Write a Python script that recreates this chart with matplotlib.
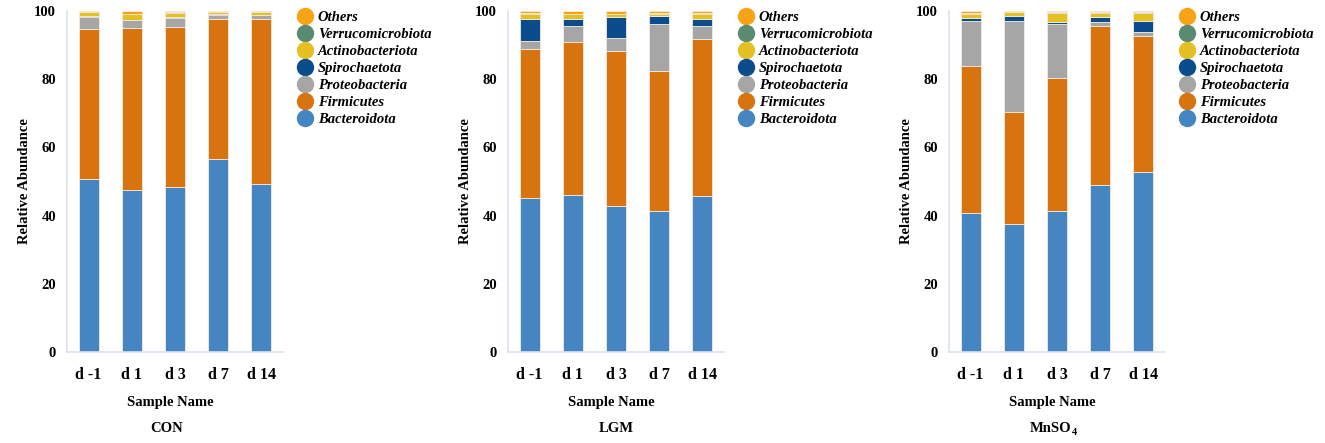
import matplotlib
matplotlib.use("Agg")
import matplotlib.pyplot as plt
from matplotlib.lines import Line2D
import numpy as np

samples = ["d -1", "d 1", "d 3", "d 7", "d 14"]
taxa = ["Bacteroidota", "Firmicutes", "Proteobacteria", "Spirochaetota",
        "Actinobacteriota", "Verrucomicrobiota", "Others"]
colors = ["#4585C1", "#D8740F", "#A6A6A6", "#0B4C8C", "#E4C022", "#5A8B70", "#F8A316"]
groups = ["CON", "LGM", "MnSO"]

con_bacteroidota = [50.6, 47.5, 48.3, 56.5, 49.3]
con_firmicutes = [44.0, 47.4, 46.9, 41.3, 48.5]
con_proteobacteria = [3.7, 2.4, 2.7, 0.9, 0.9]
con_spirochaetota = [0.1, 0.1, 0.3, 0.3, 0.1]
con_actinobacteriota = [1.2, 1.7, 1.3, 0.7, 1.0]
con_verrucomicrobiota = [0.05, 0.05, 0.1, 0.1, 0.05]
con_others = [0.35, 0.85, 0.4, 0.2, 0.15]

lgm_bacteroidota = [45.2, 46.0, 42.8, 41.3, 45.7]
lgm_firmicutes = [43.6, 44.8, 45.5, 41.2, 46.0]
lgm_proteobacteria = [2.5, 4.8, 3.7, 13.6, 3.9]
lgm_spirochaetota = [6.3, 2.0, 6.2, 2.4, 2.1]
lgm_actinobacteriota = [1.6, 1.5, 0.9, 0.7, 1.5]
lgm_verrucomicrobiota = [0.1, 0.1, 0.1, 0.1, 0.1]
lgm_others = [0.7, 0.8, 0.8, 0.7, 0.7]

mn_bacteroidota = [40.8, 37.5, 41.3, 49.0, 52.9]
mn_firmicutes = [43.1, 32.8, 39.0, 46.7, 39.8]
mn_proteobacteria = [13.2, 26.8, 15.9, 1.1, 1.2]
mn_spirochaetota = [0.8, 1.4, 0.6, 1.5, 3.1]
mn_actinobacteriota = [1.3, 1.1, 2.6, 1.0, 2.5]
mn_verrucomicrobiota = [0.1, 0.1, 0.2, 0.3, 0.1]
mn_others = [0.7, 0.3, 0.4, 0.4, 0.4]

panels = [
    [con_bacteroidota, con_firmicutes, con_proteobacteria, con_spirochaetota,
     con_actinobacteriota, con_verrucomicrobiota, con_others],
    [lgm_bacteroidota, lgm_firmicutes, lgm_proteobacteria, lgm_spirochaetota,
     lgm_actinobacteriota, lgm_verrucomicrobiota, lgm_others],
    [mn_bacteroidota, mn_firmicutes, mn_proteobacteria, mn_spirochaetota,
     mn_actinobacteriota, mn_verrucomicrobiota, mn_others],
]

plt.rcParams['font.family'] = ['Liberation Serif', 'DejaVu Serif']

W, H = 1325, 443
fig = plt.figure(figsize=(W / 100, H / 100), dpi=100)

lefts = [67, 508, 949]
axw = 216
ax_bottom_px = 352
ax_top_px = 11
spine_col = "#DCE3EE"

for pi, (left, data, gname) in enumerate(zip(lefts, panels, groups)):
    ax = fig.add_axes([left / W, (H - ax_bottom_px) / H, axw / W,
                       (ax_bottom_px - ax_top_px) / H])
    x = np.arange(len(samples))
    bottom = np.zeros(len(samples))
    for vals, col in zip(data, colors):
        v = np.array(vals)
        ax.bar(x, v, width=0.46, bottom=bottom, color=col,
               edgecolor="#F3EBDD", linewidth=0.6)
        bottom += v
    ax.set_xlim(-0.5, 4.5)
    ax.set_ylim(0, 100)
    ax.set_yticks([0, 20, 40, 60, 80, 100])
    ax.set_xticks(x)
    ax.set_xticklabels(samples, fontsize=11.5, fontweight="bold")
    for lab in ax.get_yticklabels():
        lab.set_fontsize(10.5)
        lab.set_fontweight("bold")
    ax.tick_params(axis="both", length=0)
    ax.tick_params(axis="y", pad=8)
    ax.tick_params(axis="x", pad=11)
    for s in ["top", "right"]:
        ax.spines[s].set_visible(False)
    for s in ["left", "bottom"]:
        ax.spines[s].set_color(spine_col)
        ax.spines[s].set_linewidth(1.2)
    ax.set_ylabel("Relative Abundance", fontsize=10.5, fontweight="bold")
    ax.yaxis.set_label_coords(-0.166, 0.5)
    ax.text(0.48, -0.147, "Sample Name", transform=ax.transAxes, ha="center",
            va="center", fontsize=10.5, fontweight="bold")
    if pi == 2:
        t = ax.text(0.47, -0.225, gname, transform=ax.transAxes,
                    ha="center", va="center", fontsize=10.5, fontweight="bold")
        ax.annotate("4", xy=(1, 0), xycoords=t, xytext=(0.3, -1.5),
                    textcoords="offset points", ha="left", va="bottom",
                    fontsize=7.5, fontweight="bold")
    else:
        ax.text(0.46 if pi == 0 else 0.5, -0.225, gname, transform=ax.transAxes,
                ha="center", va="center", fontsize=10.5, fontweight="bold")

    handles = [Line2D([0], [0], marker="o", linestyle="none", markersize=11.5,
                      markerfacecolor=c, markeredgecolor=c)
               for c in colors[::-1]]
    fig.legend(handles, taxa[::-1], loc="upper left",
               bbox_to_anchor=((left + axw + 16) / W, 1 - 11 / H),
               frameon=False, handlelength=0.8, handletextpad=0.5,
               labelspacing=0.26, borderpad=0, borderaxespad=0,
               prop={"size": 10.5, "weight": "bold", "style": "italic"})

fig.savefig("out.png", dpi=100)
